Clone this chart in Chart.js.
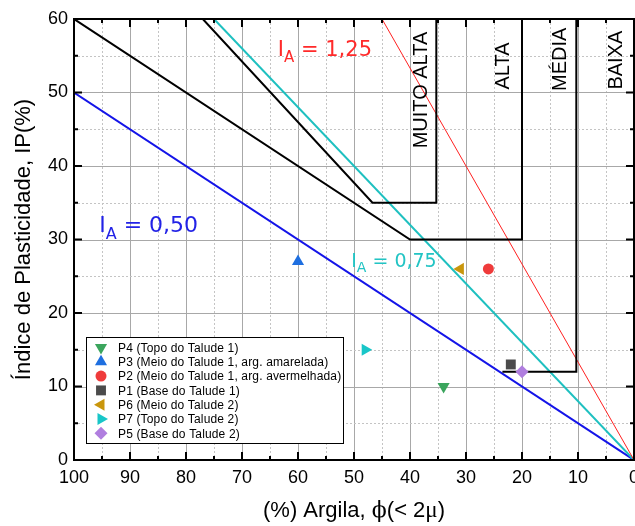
<!DOCTYPE html>
<html>
<head>
<meta charset="utf-8">
<script src="https://cdn.jsdelivr.net/npm/chart.js@4.4.0/dist/chart.umd.min.js"></script>
<style>
  html, body { margin: 0; padding: 0; background: #fff; }
</style>
</head>
<body>
<canvas id="myChart" width="635" height="526"></canvas>
<script>
// amostras (argila %, IP %)
const nomes = [
  'P4 (Topo do Talude 1)',
  'P3 (Meio do Talude 1, arg. amarelada)',
  'P2 (Meio do Talude 1, arg. avermelhada)',
  'P1 (Base do Talude 1)',
  'P6 (Meio do Talude 2)',
  'P7 (Topo do Talude 2)',
  'P5 (Base do Talude 2)'
];
const argila = [34, 60, 26, 22, 31, 48, 20];
const ip = [10, 27, 26, 13, 26, 15, 12];

// retas de atividade
const ia050X = [100, 0], ia050Y = [50, 0];
const ia075X = [75, 0],  ia075Y = [60, 0];
const ia125X = [45, 0],  ia125Y = [60, 0];

// limites das classes
const lim1X = [100, 40, 20, 20],     lim1Y = [60, 30, 30, 60];
const lim2X = [77, 46.7, 35.3, 35.3], lim2Y = [60, 35, 35, 60];
const lim3X = [23.5, 10.3, 10.3],    lim3Y = [12, 12, 60];

const xTicks = [0, 10, 20, 30, 40, 50, 60, 70, 80, 90, 100];
const yTicks = [0, 10, 20, 30, 40, 50, 60];

const classes = ['MUITO ALTA', 'ALTA', 'MÉDIA', 'BAIXA'];

// estilos
const fonte = '"Liberation Sans", Arial, sans-serif';
const fonteIA = '"DejaVu Sans", sans-serif';
const cores = ['#3ba55d', '#1e6fe0', '#ef3b3b', '#4b4b4b', '#c9960c', '#18c6c8', '#b07edf'];
const simbolos = ['triangle', 'triangle', 'circle', 'rect', 'triangle', 'triangle', 'rectRot'];
const rotacoes = [180, 0, 0, 0, -90, 90, 0];
const raios = [7, 7, 5.5, 7, 7, 7, 6.5];
const classePos = [[36.9, 42.4], [22.3, 50.4], [12.2, 50.2], [2.2, 50.4]];

const pts = (xs, ys) => xs.map((x, i) => ({ x: x, y: ys[i] }));

function linha(xs, ys, cor, larg) {
  return { data: pts(xs, ys), showLine: true, borderColor: cor, borderWidth: larg,
           pointRadius: 0, fill: false, tension: 0 };
}

const pontos = nomes.map((n, i) => ({
  label: n,
  data: [{ x: argila[i], y: ip[i] }],
  pointStyle: simbolos[i],
  rotation: rotacoes[i],
  pointRadius: raios[i],
  backgroundColor: cores[i],
  borderColor: cores[i],
  borderWidth: 0
}));

function rotuloIA(ctx, px, py, valor, cor, tam) {
  ctx.fillStyle = cor;
  ctx.textAlign = 'left';
  ctx.textBaseline = 'alphabetic';
  ctx.font = tam + 'px ' + fonteIA;
  ctx.fillText('I', px, py);
  let w = ctx.measureText('I').width;
  ctx.font = Math.round(tam * 0.72) + 'px ' + fonteIA;
  ctx.fillText('A', px + w, py + tam * 0.3);
  w += ctx.measureText('A').width;
  ctx.font = tam + 'px ' + fonteIA;
  ctx.fillText(' = ' + valor, px + w, py);
}

const desenho = {
  id: 'desenho',
  beforeDatasetsDraw(chart) {
    const { ctx, chartArea: a, scales: { x, y } } = chart;
    ctx.save();
    ctx.lineWidth = 1;
    for (let v = 5; v < 100; v += 5) {
      const p = Math.round(x.getPixelForValue(v)) + 0.5;
      if (v % 10) { ctx.strokeStyle = '#c4c4c4'; ctx.setLineDash([2, 2]); }
      else { ctx.strokeStyle = '#a8a8a8'; ctx.setLineDash([]); }
      ctx.beginPath(); ctx.moveTo(p, a.top); ctx.lineTo(p, a.bottom); ctx.stroke();
    }
    for (let v = 5; v < 60; v += 5) {
      const p = Math.round(y.getPixelForValue(v)) + 0.5;
      if (v % 10) { ctx.strokeStyle = '#c4c4c4'; ctx.setLineDash([2, 2]); }
      else { ctx.strokeStyle = '#a8a8a8'; ctx.setLineDash([]); }
      ctx.beginPath(); ctx.moveTo(a.left, p); ctx.lineTo(a.right, p); ctx.stroke();
    }
    ctx.restore();
  },
  afterDatasetsDraw(chart) {
    const { ctx, chartArea: a, scales: { x, y } } = chart;
    ctx.save();
    // eixos e bordas
    ctx.strokeStyle = '#000';
    ctx.lineWidth = 2;
    ctx.strokeRect(a.left, a.top, a.right - a.left, a.bottom - a.top);
    // marcas dos eixos (para dentro)
    for (let v = 5; v < 100; v += 5) {
      const p = x.getPixelForValue(v);
      const t = v % 10 ? 4 : 8;
      ctx.beginPath();
      ctx.moveTo(p, a.bottom); ctx.lineTo(p, a.bottom - t);
      ctx.moveTo(p, a.top); ctx.lineTo(p, a.top + t);
      ctx.stroke();
    }
    for (let v = 5; v < 60; v += 5) {
      const p = y.getPixelForValue(v);
      const t = v % 10 ? 4 : 8;
      ctx.beginPath();
      ctx.moveTo(a.left, p); ctx.lineTo(a.left + t, p);
      ctx.moveTo(a.right, p); ctx.lineTo(a.right - t, p);
      ctx.stroke();
    }

    // classes (texto vertical)
    ctx.fillStyle = '#000';
    ctx.font = '20px ' + fonte;
    ctx.textAlign = 'left';
    ctx.textBaseline = 'alphabetic';
    classes.forEach((c, i) => {
      ctx.save();
      ctx.translate(x.getPixelForValue(classePos[i][0]), y.getPixelForValue(classePos[i][1]));
      ctx.rotate(-Math.PI / 2);
      ctx.fillText(c, 0, 0);
      ctx.restore();
    });

    // rotulos das retas
    rotuloIA(ctx, x.getPixelForValue(95.5), y.getPixelForValue(31), '0,50', '#2222e6', 22);
    rotuloIA(ctx, x.getPixelForValue(63.6), y.getPixelForValue(55), '1,25', '#ff2a2a', 21);
    rotuloIA(ctx, x.getPixelForValue(50.5), y.getPixelForValue(26.3), '0,75', '#22c4c4', 19);

    // legenda
    ctx.fillStyle = '#fff';
    ctx.fillRect(86.5, 337.5, 257, 106);
    ctx.strokeStyle = '#000';
    ctx.lineWidth = 1;
    ctx.strokeRect(86.5, 337.5, 257, 106);
    ctx.font = '12px ' + fonte;
    ctx.letterSpacing = '0.15px';
    ctx.textBaseline = 'middle';
    pontos.forEach((d, i) => {
      const ly = 347.5 + i * 14.3;
      ctx.fillStyle = cores[i];
      Chart.helpers.drawPoint(ctx, { pointStyle: simbolos[i], rotation: rotacoes[i], radius: raios[i], borderWidth: 0 }, 101, ly);
      ctx.fillStyle = '#000';
      ctx.fillText(nomes[i], 118, ly + 1);
    });
    ctx.letterSpacing = '0px';

    // titulo do eixo x (fontes mistas)
    const partes = [
      ['(%) Argila, ', '22px ' + fonte],
      ['\u03D5', '22px "DejaVu Serif", serif'],
      ['(< 2', '22px ' + fonte],
      ['\u03BC', '23px "Liberation Serif", serif'],
      [')', '22px ' + fonte]
    ];
    let total = 0;
    partes.forEach(p => { ctx.font = p[1]; total += ctx.measureText(p[0]).width; });
    let px = (a.left + a.right) / 2 - total / 2;
    ctx.fillStyle = '#000';
    ctx.textBaseline = 'alphabetic';
    partes.forEach(p => { ctx.font = p[1]; ctx.fillText(p[0], px, 517); px += ctx.measureText(p[0]).width; });
    ctx.restore();
  }
};

const ctx = document.getElementById('myChart').getContext('2d');
const chart = new Chart(ctx, {
  type: 'scatter',
  data: {
    datasets: pontos.concat([
      linha(lim1X, lim1Y, '#000', 2),
      linha(lim2X, lim2Y, '#000', 2),
      linha(lim3X, lim3Y, '#000', 2),
      linha(ia125X, ia125Y, '#ff2020', 1),
      linha(ia075X, ia075Y, '#1ec0c0', 2),
      linha(ia050X, ia050Y, '#1414e8', 2)
    ])
  },
  options: {
    responsive: false,
    animation: false,
    devicePixelRatio: 1,
    layout: { padding: { top: 19, right: 1, left: 0, bottom: 0 }, autoPadding: false },
    plugins: { legend: { display: false }, tooltip: { enabled: false } },
    scales: {
      x: {
        type: 'linear', reverse: true, min: 0, max: 100,
        afterBuildTicks: s => { s.ticks = xTicks.map(v => ({ value: v })); },
        afterFit: s => { s.height = 66; s.paddingLeft = 0; s.paddingRight = 0; },
        grid: { display: false, drawTicks: false },
        border: { display: false },
        ticks: { font: { family: fonte, size: 18 }, color: '#000', padding: 7, maxRotation: 0, autoSkip: false }
      },
      y: {
        type: 'linear', min: 0, max: 60,
        afterBuildTicks: s => { s.ticks = yTicks.map(v => ({ value: v })); },
        afterFit: s => { s.width = 74; s.paddingTop = 0; s.paddingBottom = 0; },
        grid: { display: false, drawTicks: false },
        border: { display: false },
        ticks: { font: { family: fonte, size: 18 }, color: '#000', padding: 6, autoSkip: false },
        title: { display: true, text: 'Índice de Plasticidade, IP(%)', font: { family: fonte, size: 22 },
                 color: '#000', padding: { top: 11, bottom: 0 } }
      }
    }
  },
  plugins: [desenho]
});
</script>
</body>
</html>
